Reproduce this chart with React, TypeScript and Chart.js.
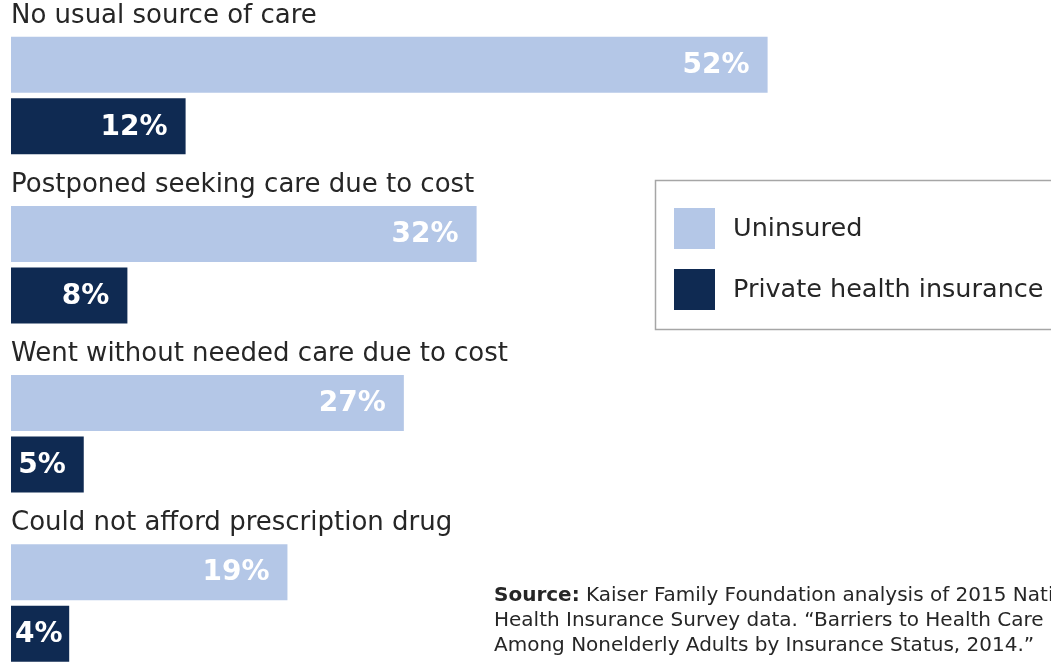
import React, { useEffect, useRef } from "react";
import { Chart, registerables } from "chart.js";

Chart.register(...registerables);

const categories = [
  "No usual source of care",
  "Postponed seeking care due to cost",
  "Went without needed care due to cost",
  "Could not afford prescription drug",
];
const uninsured = [52, 32, 27, 19];
const privateIns = [12, 8, 5, 4];
const seriesNames = ["Uninsured", "Private health insurance"];
const seriesColors = ["#B4C7E7", "#0F2A52"];
const sourceBold = "Source:";
const sourceLines = [
  " Kaiser Family Foundation analysis of 2015 National",
  "Health Insurance Survey data. \u201CBarriers to Health Care",
  "Among Nonelderly Adults by Insurance Status, 2014.\u201D",
];

const FONT = "'DejaVu Sans', sans-serif";
const TEXT = "#262626";

const overlayPlugin = {
  id: "overlay",
  afterDatasetsDraw(chart: any) {
    const ctx = chart.ctx;
    ctx.save();
    // category labels above each pair
    const meta0 = chart.getDatasetMeta(0);
    ctx.fillStyle = TEXT;
    ctx.font = `26px ${FONT}`;
    ctx.textBaseline = "middle";
    ctx.textAlign = "left";
    meta0.data.forEach((bar: any, i: number) => {
      const top = bar.y - bar.height / 2;
      ctx.fillText(chart.data.labels[i], 11, top - 21);
    });
    // value labels
    ctx.font = `bold 28px ${FONT}`;
    ctx.fillStyle = "#FFFFFF";
    chart.data.datasets.forEach((ds: any, di: number) => {
      const meta = chart.getDatasetMeta(di);
      meta.data.forEach((bar: any, i: number) => {
        const txt = ds.data[i] + "%";
        const w = ctx.measureText(txt).width;
        let right = bar.x - 18;
        const left = bar.base;
        if (right - w < left + 4) right = left + 4 + w;
        ctx.textAlign = "right";
        ctx.fillText(txt, right, bar.y + 1);
      });
    });
    // legend box
    ctx.strokeStyle = "#A6A6A6";
    ctx.lineWidth = 1.5;
    ctx.strokeRect(655.5, 180.5, 500, 149);
    ctx.font = `25.5px ${FONT}`;
    ctx.textAlign = "left";
    chart.data.datasets.forEach((ds: any, di: number) => {
      const y = 208 + di * 61;
      ctx.fillStyle = ds.backgroundColor;
      ctx.fillRect(674, y, 41, 41);
      ctx.fillStyle = TEXT;
      ctx.fillText(ds.label, 733, y + 21);
    });
    // source
    ctx.font = `bold 20px ${FONT}`;
    ctx.fillStyle = TEXT;
    ctx.fillText(sourceBold, 494, 596);
    const bw = ctx.measureText(sourceBold).width;
    ctx.font = `20px ${FONT}`;
    ctx.fillText(sourceLines[0], 494 + bw, 596);
    ctx.fillText(sourceLines[1], 494, 621);
    ctx.fillText(sourceLines[2], 494, 646);
    ctx.restore();
  },
};

export default function App() {
  const ref = useRef<HTMLCanvasElement | null>(null);
  useEffect(() => {
    if (!ref.current) return;
    const chart = new Chart(ref.current, {
      type: "bar",
      data: {
        labels: categories,
        datasets: [
          { label: seriesNames[0], data: uninsured, backgroundColor: seriesColors[0] },
          { label: seriesNames[1], data: privateIns, backgroundColor: seriesColors[1] },
        ],
      },
      options: {
        indexAxis: "y",
        animation: false,
        responsive: false,
        maintainAspectRatio: false,
        categoryPercentage: 0.728,
        barPercentage: 0.91,
        layout: { padding: { left: 11, top: 11, bottom: 12.5, right: 25 } },
        scales: {
          x: { type: "linear", min: 0, max: 80, display: false },
          y: { type: "category", display: false, grid: { display: false } },
        },
        plugins: { legend: { display: false }, tooltip: { enabled: false } },
      } as any,
      plugins: [overlayPlugin],
    });
    return () => chart.destroy();
  }, []);
  return (
    <div style={{ position: "fixed", left: 0, top: 0, width: 1051, height: 662, overflow: "hidden", background: "#fff" }}>
      <canvas ref={ref} width={1200} height={700} style={{ display: "block", width: 1200, height: 700 }} />
    </div>
  );
}
